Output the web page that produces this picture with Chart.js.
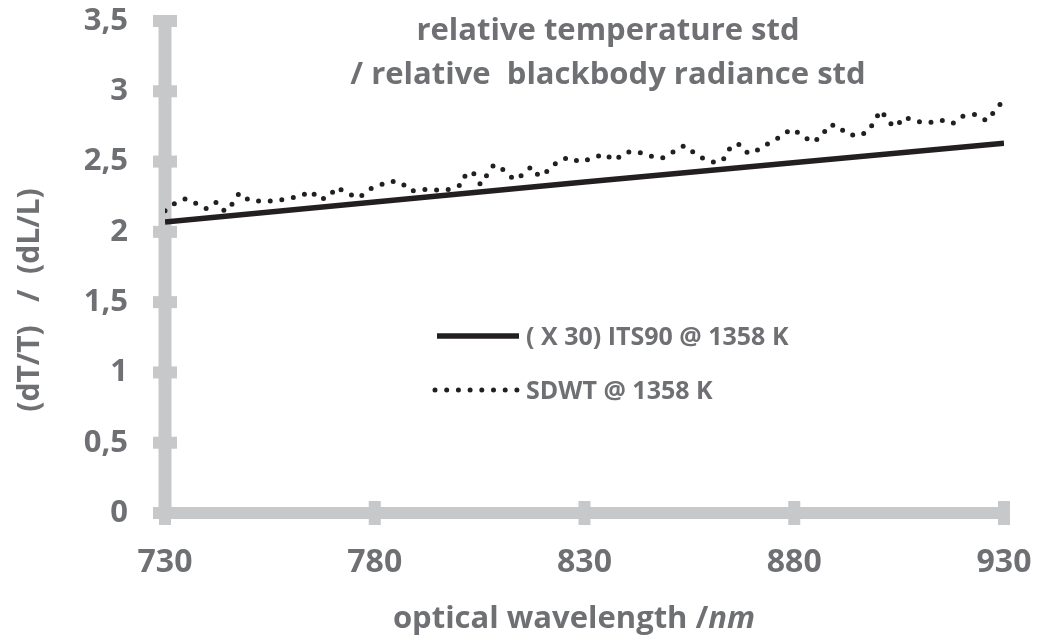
<!DOCTYPE html>
<html lang="en">
<head>
  <meta charset="UTF-8" />
  <title>relative temperature std / relative blackbody radiance std</title>
  <style>
    html, body { margin: 0; padding: 0; background: #ffffff; }
    #wrap { width: 1039px; height: 641px; }
  </style>
</head>
<body>
  <div id="wrap">
    <canvas id="stdChart" width="1039" height="641"></canvas>
  </div>

  <script src="https://cdn.jsdelivr.net/npm/chart.js"></script>
  <script>
    // ITS90 (x 30) - straight line
    const its90Wl = [730, 830, 930];
    const its90Val = [2.07, 2.355, 2.63];

    // SDWT - noisy dotted curve
    const sdwtWl = [
      730, 732.2, 734.9, 737.6, 739.9, 742.3, 744.3, 746.1, 747.7, 750.1,
      753.1, 756.1, 759.1, 762.1, 764.8, 766.9, 769.0, 770.9, 773.6, 776.3,
      778.5, 781.1, 783.9, 786.3, 788.6, 791.5, 794.5, 797.3, 800.8, 801.8,
      803.6, 805.2, 806.8, 808.4, 811.0, 813.2, 815.3, 817.3, 819.2, 821.5,
      823.6, 826.3, 829.0, 832.0, 834.7, 837.2, 839.7, 842.6, 845.5, 848.4,
      851.1, 853.8, 856.1, 858.7, 861.5, 863.7, 864.9, 867.0, 869.0, 871.8,
      874.3, 877.0, 879.2, 881.8, 884.1, 886.5, 888.1, 890.3, 892.5, 895.4,
      897.9, 899.2, 900.8, 902.3, 904.2, 906.2, 909.0, 911.9, 914.8, 917.7,
      920.2, 923.1, 925.9, 927.7, 929.5
    ];
    const sdwtVal = [
      2.15, 2.20, 2.236, 2.20, 2.165, 2.212, 2.145, 2.20, 2.276, 2.224,
      2.219, 2.219, 2.236, 2.252, 2.29, 2.229, 2.247, 2.319, 2.272, 2.243,
      2.30, 2.331, 2.361, 2.35, 2.29, 2.302, 2.297, 2.30, 2.336, 2.421,
      2.414, 2.336, 2.407, 2.478, 2.436, 2.371, 2.407, 2.464, 2.395, 2.438,
      2.502, 2.53, 2.497, 2.525, 2.554, 2.509, 2.566, 2.571, 2.54, 2.523,
      2.568, 2.614, 2.564, 2.514, 2.49, 2.53, 2.614, 2.623, 2.557, 2.589,
      2.639, 2.68, 2.731, 2.692, 2.637, 2.675, 2.758, 2.758, 2.696, 2.682,
      2.721, 2.801, 2.865, 2.785, 2.746, 2.818, 2.787, 2.775, 2.796, 2.77,
      2.823, 2.835, 2.789, 2.856, 2.924
    ];

    const xTicks = [730, 780, 830, 880, 930];
    const yTicks = [0, 0.5, 1, 1.5, 2, 2.5, 3, 3.5];

    const seriesLabels = ['( X 30) ITS90 @ 1358 K', 'SDWT @ 1358 K'];

    const textGrey = '#6f7073';
    const axisGrey = '#c7c8ca';
    const ink = '#231f20';
    const fontFam = '"Open Sans", "DejaVu Sans", sans-serif';

    function pts(xs, ys) {
      return xs.map((x, i) => ({ x: x, y: ys[i] }));
    }

    // thick grey axes with block ticks, drawn under the lines
    const axesPlugin = {
      id: 'fatAxes',
      beforeDatasetsDraw(chart) {
        const ctx = chart.ctx;
        const xs = chart.scales.x;
        const ys = chart.scales.y;
        const x0 = xs.getPixelForValue(730);
        const x1 = xs.getPixelForValue(930);
        const y0 = ys.getPixelForValue(0);
        const yTop = ys.getPixelForValue(3.5);
        ctx.save();
        ctx.fillStyle = axisGrey;
        // y axis
        ctx.fillRect(x0 - 6.5, yTop - 6, 13, y0 - yTop + 12);
        yTicks.forEach(v => {
          const py = ys.getPixelForValue(v);
          ctx.fillRect(x0 - 12, py - 6, 24, 12);
        });
        // x axis
        ctx.fillRect(x0 - 12, y0 - 6, x1 - x0 + 18, 12);
        xTicks.forEach(v => {
          const px = xs.getPixelForValue(v);
          ctx.fillRect(px - 6, y0 - 12, 12, 24);
        });
        ctx.restore();
      }
    };

    // titles + legend inside the plot
    const textPlugin = {
      id: 'texts',
      afterDraw(chart) {
        const ctx = chart.ctx;
        ctx.save();
        ctx.fillStyle = textGrey;

        // chart title (two lines)
        ctx.font = 'bold 31px ' + fontFam;
        ctx.textAlign = 'center';
        ctx.textBaseline = 'alphabetic';
        ctx.fillText('relative temperature std', 608, 40);
        ctx.fillText('/ relative  blackbody radiance std', 608, 84);

        // x axis title, "nm" in italic
        const a = 'optical wavelength /';
        const b = 'nm';
        ctx.font = 'bold 31px ' + fontFam;
        const wa = ctx.measureText(a).width;
        ctx.font = 'italic bold 31px ' + fontFam;
        const wb = ctx.measureText(b).width;
        const sx = 574 - (wa + wb) / 2;
        ctx.textAlign = 'left';
        ctx.font = 'bold 31px ' + fontFam;
        ctx.fillText(a, sx, 628);
        ctx.font = 'italic bold 31px ' + fontFam;
        ctx.fillText(b, sx + wa, 628);

        // y axis title, rotated
        ctx.save();
        ctx.translate(30, 300);
        ctx.rotate(-Math.PI / 2);
        ctx.textAlign = 'center';
        ctx.textBaseline = 'middle';
        ctx.font = 'bold 30px ' + fontFam;
        ctx.fillText('(dT/T)   /  (dL/L)', 0, 0);
        ctx.restore();

        // legend
        const ds = chart.data.datasets;
        ctx.font = 'bold 25px ' + fontFam;
        ctx.textAlign = 'left';
        ctx.textBaseline = 'middle';
        const rows = [336, 390];
        ds.forEach((d, i) => {
          const y = rows[i];
          const dash = d.borderDash || [];
          const sx0 = dash.length ? 435 : 437;
          const sx1 = dash.length ? sx0 + 7 * dash[1] + 0.5 : 519;
          ctx.save();
          ctx.strokeStyle = d.borderColor;
          ctx.lineWidth = d.borderWidth;
          ctx.lineCap = d.borderCapStyle || 'butt';
          ctx.setLineDash(dash);
          ctx.beginPath();
          ctx.moveTo(sx0, y);
          ctx.lineTo(sx1, y);
          ctx.stroke();
          ctx.restore();
          ctx.fillText(d.label, 526, y + 2);
        });

        ctx.restore();
      }
    };

    const chart = new Chart(document.getElementById('stdChart'), {
      type: 'line',
      data: {
        datasets: [
          {
            label: seriesLabels[0],
            data: pts(its90Wl, its90Val),
            borderColor: ink,
            borderWidth: 5.5,
            borderCapStyle: 'butt',
            pointRadius: 0,
            tension: 0
          },
          {
            label: seriesLabels[1],
            data: pts(sdwtWl, sdwtVal),
            borderColor: ink,
            borderWidth: 5,
            borderCapStyle: 'round',
            borderDash: [0, 11.7],
            pointRadius: 0,
            tension: 0
          }
        ]
      },
      options: {
        responsive: false,
        animation: false,
        layout: { padding: { top: 21, right: 35, left: 0, bottom: 0 } },
        plugins: {
          legend: { display: false },
          tooltip: { enabled: false }
        },
        scales: {
          x: {
            type: 'linear',
            min: 730,
            max: 930,
            afterFit: s => {
              s.height = 128;
              s.paddingLeft = 0;
              s.paddingRight = 0;
            },
            afterBuildTicks: s => { s.ticks = xTicks.map(v => ({ value: v })); },
            grid: { display: false, drawTicks: false },
            border: { display: false },
            ticks: {
              color: textGrey,
              padding: 31,
              font: { family: fontFam, size: 32, weight: 'bold' }
            }
          },
          y: {
            type: 'linear',
            min: 0,
            max: 3.5,
            afterFit: s => {
              s.width = 165;
              s.paddingTop = 0;
              s.paddingBottom = 0;
            },
            afterBuildTicks: s => { s.ticks = yTicks.map(v => ({ value: v })); },
            grid: { display: false, drawTicks: false },
            border: { display: false },
            ticks: {
              color: textGrey,
              padding: 37,
              font: { family: fontFam, size: 31, weight: 'bold' },
              callback: v => String(v).replace('.', ',')
            }
          }
        }
      },
      plugins: [axesPlugin, textPlugin]
    });
  </script>
</body>
</html>
